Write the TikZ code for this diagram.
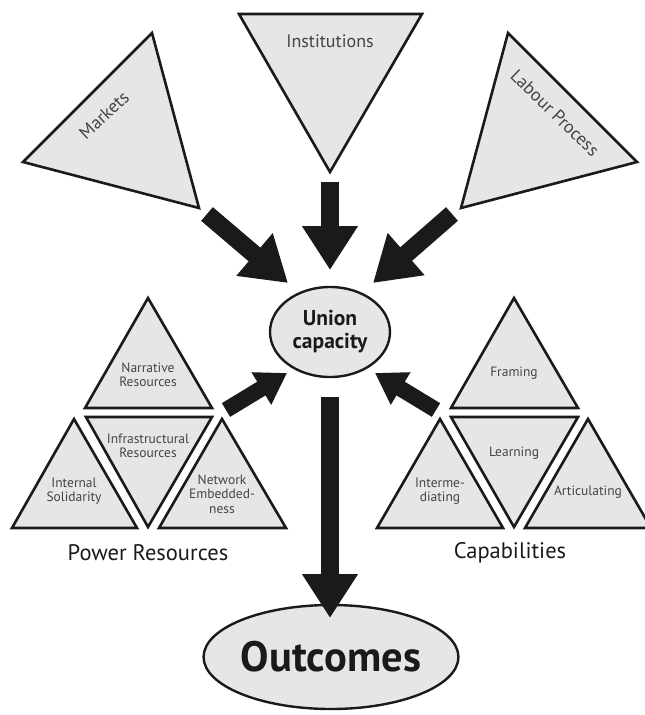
\documentclass[tikz,border=0pt]{standalone}
\usepackage{fontspec}
\setmainfont{PT Sans}
\usetikzlibrary{arrows.meta,shapes.geometric}
\definecolor{trifill}{HTML}{E6E6E6}
\definecolor{ink}{HTML}{1A1A1A}
\definecolor{greytext}{HTML}{444444}
\begin{document}
\begin{tikzpicture}[x=1pt,y=-1pt,
  tribox/.style={draw=ink, fill=trifill, line width=2.6pt, line join=miter},
  toplabel/.style={text=greytext, font=\fontsize{18}{20}\selectfont, inner sep=0pt},
  innerlabel/.style={text=greytext, font=\fontsize{13.5}{14.5}\selectfont, align=center, inner sep=0pt},
  grouplabel/.style={text=ink, font=\fontsize{22.5}{24}\selectfont, inner sep=0pt},
  bigarrow/.style={line width=18pt, draw=ink, -{Triangle[length=44pt,width=53pt]}},
  smallarrow/.style={line width=16pt, draw=ink, -{Triangle[length=30pt,width=36pt]}},
  oval/.style={ellipse, draw=ink, fill=trifill, line width=2.4pt, inner sep=0pt, text=ink}
]
\useasboundingbox (0,0) rectangle (645,715);

% top triangles
\draw[tribox] (152,33) -- (23,162) -- (199,208) -- cycle;
\node[toplabel, rotate=43] (markets) at (104,115) {Markets};
\draw[tribox] (239,14) -- (422,14) -- (330,172) -- cycle;
\node[toplabel] (institutions) at (330,41) {Institutions};
\draw[tribox] (508,33) -- (637,162) -- (461,208) -- cycle;
\node[toplabel, rotate=-44] (labour) at (555,113) {Labour Process};

% central ovals
\node[oval, minimum width=120pt, minimum height=90pt,
      font=\bfseries\fontsize{21.5}{23}\selectfont, align=center] (union) at (330,332) {Union\\capacity};
\node[oval, minimum width=253pt, minimum height=104pt,
      font=\bfseries\fontsize{42.5}{46}\selectfont] (outcomes) at (331,657) {Outcomes};

% power resources
\draw[tribox] (148,298) -- (85,408) -- (212,408) -- cycle;
\node[innerlabel] (narrative) at (148,375) {Narrative\\Resources};
\draw[tribox] (86,417) -- (212,417) -- (148,527) -- cycle;
\node[innerlabel] (infra) at (148,446) {Infrastructural\\Resources};
\draw[tribox] (74,419) -- (12,528) -- (137,528) -- cycle;
\node[innerlabel] (internal) at (74,491) {Internal\\Solidarity};
\draw[tribox] (222,419) -- (159,528) -- (286,528) -- cycle;
\node[innerlabel] (network) at (222,494) {Network\\Embedded-\\ness};
\node[grouplabel] (power) at (148,553) {Power Resources};

% capabilities
\draw[tribox] (514,298) -- (451,408) -- (578,408) -- cycle;
\node[innerlabel] (framing) at (514,373) {Framing};
\draw[tribox] (451,417) -- (578,417) -- (514,527) -- cycle;
\node[innerlabel] (learning) at (514,453) {Learning};
\draw[tribox] (440,419) -- (377,528) -- (503,528) -- cycle;
\node[innerlabel] (interme) at (440,491) {Interme-\\diating};
\draw[tribox] (588,419) -- (525,528) -- (651,528) -- cycle;
\node[innerlabel] (articulating) at (588,492) {Articulating};
\node[grouplabel] (capab) at (510,553) {Capabilities};

% arrow ends
\coordinate (mkS) at (207,214);
\coordinate (mkE) at (288,283);
\coordinate (inS) at (330,182);
\coordinate (inE) at (330,270);
\coordinate (lpS) at (452,214);
\coordinate (lpE) at (373,283);
\coordinate (prS) at (226,410);
\coordinate (prE) at (287,373);
\coordinate (caS) at (436,410);
\coordinate (caE) at (375,373);
\coordinate (ucS) at (330,397);
\coordinate (ucE) at (330,618);

\draw[bigarrow] (mkS) -- (mkE);
\draw[bigarrow] (inS) -- (inE);
\draw[bigarrow] (lpS) -- (lpE);
\draw[smallarrow] (prS) -- (prE);
\draw[smallarrow] (caS) -- (caE);
\draw[bigarrow] (ucS) -- (ucE);
\end{tikzpicture}
\end{document}
